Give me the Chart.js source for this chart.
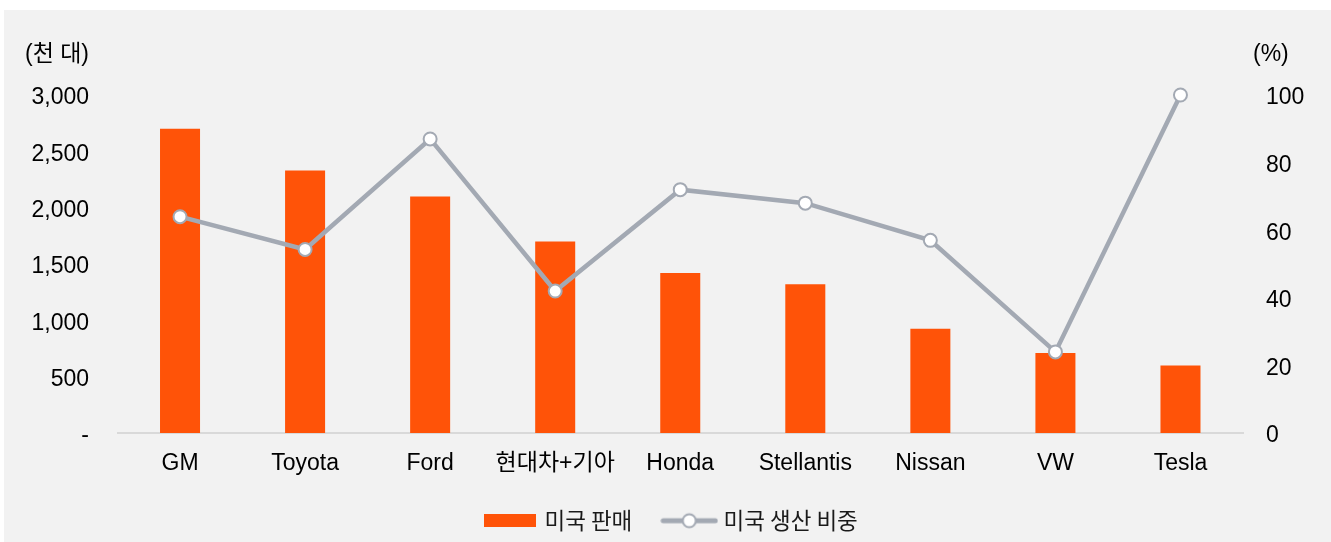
<!DOCTYPE html>
<html>
<head>
<meta charset="utf-8">
<script src="https://cdn.jsdelivr.net/npm/chart.js@4.4.1/dist/chart.umd.min.js"></script>
<style>
  body { margin: 0; background: #fff; }
  #wrap { position: relative; width: 1331px; height: 542px; }
  #panel { position: absolute; left: 4px; top: 10px; width: 1327px; height: 532px; background: #f2f2f2; }
  #myChart { position: absolute; left: 0; top: 0; }
</style>
</head>
<body>
<div id="wrap">
  <div id="panel"></div>
  <canvas id="myChart" width="1331" height="542"></canvas>
</div>
<script>
// categories and values
var makers = ["GM", "Toyota", "Ford", "현대차+기아", "Honda", "Stellantis", "Nissan", "VW", "Tesla"];
var usSales = [2700, 2330, 2100, 1700, 1420, 1320, 925, 710, 600];      // 천 대
var usProdShare = [64, 54.3, 87, 42, 72, 68, 57, 24, 100];              // %

var ORANGE = '#ff5308';
var GREY = '#a3a9b3';
var FONT = '"Liberation Sans", Arial, "Noto Sans CJK KR", sans-serif';
var KFONT = '"Noto Sans CJK KR", "Liberation Sans", sans-serif';

// legend swatches
function barSwatch(){
    var c = document.createElement('canvas');
    c.width = 52; c.height = 13;
    var ctx = c.getContext('2d');
    ctx.fillStyle = ORANGE;
    ctx.fillRect(0, 0, 52, 13);
    return c;
}
function lineSwatch(){
    var c = document.createElement('canvas');
    c.width = 58; c.height = 18;
    var ctx = c.getContext('2d');
    ctx.strokeStyle = GREY;
    ctx.lineWidth = 5;
    ctx.lineCap = 'round';
    ctx.beginPath();
    ctx.moveTo(3, 9); ctx.lineTo(55, 9);
    ctx.stroke();
    ctx.beginPath();
    ctx.arc(29, 9, 6.5, 0, Math.PI * 2);
    ctx.fillStyle = '#fff';
    ctx.fill();
    ctx.lineWidth = 2;
    ctx.stroke();
    return c;
}

var unitLabels = {
    id: 'unitLabels',
    afterLayout: function(chart){
        // nudge the legend a bit right, like the original
        chart.legend.left += 7;
        chart.legend.right += 7;
    },
    afterDraw: function(chart){
        var ctx = chart.ctx;
        ctx.save();
        ctx.fillStyle = '#000';
        ctx.font = '23px ' + FONT;
        ctx.textBaseline = 'middle';
        ctx.textAlign = 'right';
        ctx.fillText('(천 대)', 89, 55);
        ctx.textAlign = 'left';
        ctx.fillText('(%)', 1253, 55);
        ctx.restore();
    }
};

new Chart(document.getElementById('myChart'), {
    data: {
        labels: makers,
        datasets: [{
            type: 'line',
            label: '미국 생산 비중',
            data: usProdShare,
            yAxisID: 'y1',
            borderColor: GREY,
            borderWidth: 4.5,
            tension: 0,
            clip: false,
            pointRadius: 6.5,
            pointHoverRadius: 6.5,
            pointBackgroundColor: '#fff',
            pointBorderColor: GREY,
            pointBorderWidth: 2,
            order: 0
        }, {
            type: 'bar',
            label: '미국 판매',
            data: usSales,
            yAxisID: 'y',
            backgroundColor: ORANGE,
            barPercentage: 0.32,
            categoryPercentage: 1,
            order: 1
        }]
    },
    options: {
        responsive: false,
        animation: false,
        layout: { padding: { top: 95, bottom: 0, left: 0, right: 0 } },
        plugins: {
            tooltip: { enabled: false },
            legend: {
                position: 'bottom',
                reverse: true,
                labels: {
                    usePointStyle: true,
                    pointStyleWidth: 46,
                    padding: 34,
                    color: '#1a1a1a',
                    font: { family: KFONT, size: 22.5 },
                    generateLabels: function(chart){
                        return chart.data.datasets.map(function(ds, i){
                            return {
                                text: ds.label,
                                datasetIndex: i,
                                pointStyle: ds.type === 'bar' ? barSwatch() : lineSwatch(),
                                fillStyle: 'transparent',
                                strokeStyle: 'transparent',
                                lineWidth: 0,
                                fontColor: '#1a1a1a',
                                hidden: false
                            };
                        });
                    }
                }
            }
        },
        scales: {
            x: {
                grid: { display: false, drawTicks: false },
                border: { display: true, color: '#d9d9d9', width: 2 },
                ticks: { color: '#000', font: { family: FONT, size: 23 }, padding: 17, maxRotation: 0 },
                afterFit: function(scale){ scale.height = 42.5; }
            },
            y: {
                position: 'left',
                min: 0, max: 3000,
                grid: { display: false, drawTicks: false },
                border: { display: false },
                ticks: {
                    stepSize: 500,
                    padding: 28.5,
                    labelOffset: 3,
                    color: '#000',
                    font: { family: FONT, size: 23 },
                    callback: function(v){ return v === 0 ? '-' : v.toLocaleString('en-US'); }
                },
                afterFit: function(scale){ scale.width = 117.5; }
            },
            y1: {
                position: 'right',
                min: 0, max: 100,
                grid: { display: false, drawTicks: false },
                border: { display: false },
                ticks: { stepSize: 20, padding: 23, labelOffset: 3, color: '#000', font: { family: FONT, size: 23 } },
                afterFit: function(scale){ scale.width = 88; }
            }
        }
    },
    plugins: [unitLabels]
});
</script>
</body>
</html>
